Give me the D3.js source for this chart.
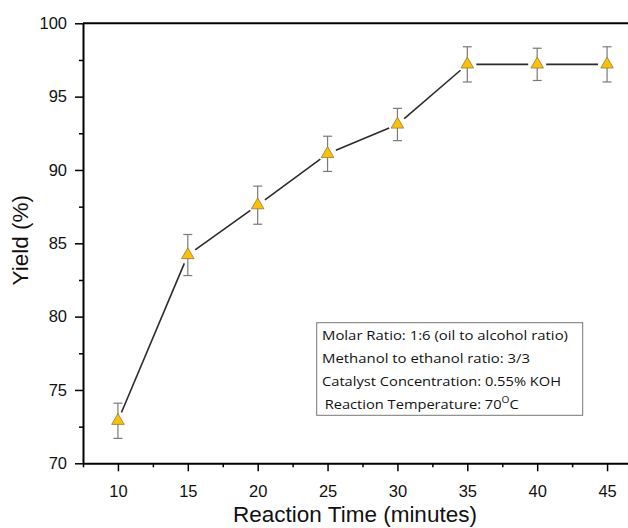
<!DOCTYPE html>
<html>
<head>
<meta charset="utf-8">
<style>
  body{ margin:0; background:#fff; }
  svg{ display:block; }
</style>
</head>
<body>
<svg id="chart" width="628" height="528"></svg>
<script src="https://d3js.org/d3.v7.min.js"></script>
<script>
    // data
    const times = [10, 15, 20, 25, 30, 35, 40, 45]
    const yields = [72.9, 84.2, 87.6, 91.1, 93.1, 97.2, 97.2, 97.2]
    const errors = [1.2, 1.4, 1.3, 1.2, 1.1, 1.2, 1.1, 1.2]
    const xTicks = [10, 15, 20, 25, 30, 35, 40, 45]
    const yTicks = [70, 75, 80, 85, 90, 95, 100]
    const notes = [
      'Molar Ratio: 1:6 (oil to alcohol ratio)',
      'Methanol to ethanol ratio: 3/3',
      'Catalyst Concentration: 0.55% KOH'
    ]

    const svg = d3.select('#chart')

    const x = d3.scaleLinear().domain([7.5, 47.5]).range([83, 642])
    const y = d3.scaleLinear().domain([70, 100]).range([463.3, 23.3])

    const axisFont = 'Liberation Sans, Arial, sans-serif'

    // minor ticks
    const xMinor = d3.range(7.5, 47.6, 5)
    const yMinor = d3.range(72.5, 100, 5)

    svg.append('g')
      .attr('transform', `translate(0,${y(70)})`)
      .call(d3.axisBottom(x).tickValues(xMinor).tickSize(4).tickFormat(''))
      .call(g => g.select('.domain').remove())
      .selectAll('line').attr('stroke', '#000').attr('stroke-width', 1.5)

    svg.append('g')
      .attr('transform', `translate(${x(7.5)},0)`)
      .call(d3.axisLeft(y).tickValues(yMinor).tickSize(4).tickFormat(''))
      .call(g => g.select('.domain').remove())
      .selectAll('line').attr('stroke', '#000').attr('stroke-width', 1.5)

    // x axis
    const gx = svg.append('g')
      .attr('transform', `translate(0,${y(70)})`)
      .call(d3.axisBottom(x).tickValues(xTicks).tickSize(8).tickSizeOuter(0).tickPadding(14))
    gx.select('.domain').attr('stroke', '#000').attr('stroke-width', 2)
    gx.selectAll('line').attr('stroke', '#000').attr('stroke-width', 1.5)
    gx.selectAll('text').attr('font-family', axisFont).attr('font-size', 16.5).attr('fill', '#111')

    // y axis
    const gy = svg.append('g')
      .attr('transform', `translate(${x(7.5)},0)`)
      .call(d3.axisLeft(y).tickValues(yTicks).tickSize(8).tickSizeOuter(0).tickPadding(8))
    gy.select('.domain').attr('stroke', '#000').attr('stroke-width', 2)
    gy.selectAll('line').attr('stroke', '#000').attr('stroke-width', 1.5)
    gy.selectAll('text').attr('font-family', axisFont).attr('font-size', 16.5).attr('fill', '#111')

    // top frame line
    svg.append('line')
      .attr('x1', x(7.5)).attr('x2', x(47.5))
      .attr('y1', y(100)).attr('y2', y(100))
      .attr('stroke', '#000').attr('stroke-width', 2)

    // axis titles
    svg.append('text')
      .attr('x', 355).attr('y', 522)
      .attr('text-anchor', 'middle')
      .attr('font-family', axisFont).attr('font-size', 22.5).attr('fill', '#111')
      .text('Reaction Time (minutes)')

    svg.append('text')
      .attr('transform', `translate(28,${(y(70) + y(100)) / 2 - 3}) rotate(-90)`)
      .attr('text-anchor', 'middle')
      .attr('font-family', axisFont).attr('font-size', 22.5).attr('fill', '#111')
      .text('Yield (%)')

    // points
    const pts = times.map((t, i) => ({x: x(t), y: y(yields[i]), lo: y(yields[i] - errors[i]), hi: y(yields[i] + errors[i])}))

    // connecting line, stopped short of each marker
    const gap = 9
    const segs = d3.pairs(pts).map(([a, b]) => {
      const dx = b.x - a.x, dy = b.y - a.y
      const len = Math.hypot(dx, dy)
      const ux = dx / len, uy = dy / len
      return [[a.x + ux * gap, a.y + uy * gap], [b.x - ux * gap, b.y - uy * gap]]
    })
    svg.append('g')
      .selectAll('line')
      .data(segs)
      .join('line')
      .attr('x1', d => d[0][0]).attr('y1', d => d[0][1])
      .attr('x2', d => d[1][0]).attr('y2', d => d[1][1])
      .attr('stroke', '#2b2b2b').attr('stroke-width', 1.6)

    // error bars
    const eb = svg.append('g').attr('stroke', '#7a7a7a').attr('stroke-width', 1.2)
    eb.selectAll('.v').data(pts).join('line')
      .attr('x1', d => d.x).attr('x2', d => d.x)
      .attr('y1', d => d.lo).attr('y2', d => d.hi)
    eb.selectAll('.t').data(pts).join('line')
      .attr('x1', d => d.x - 4.5).attr('x2', d => d.x + 4.5)
      .attr('y1', d => d.hi).attr('y2', d => d.hi)
    eb.selectAll('.b').data(pts).join('line')
      .attr('x1', d => d.x - 4.5).attr('x2', d => d.x + 4.5)
      .attr('y1', d => d.lo).attr('y2', d => d.lo)

    // triangle markers
    const tri = d3.symbol(d3.symbolTriangle, 68)
    svg.append('g')
      .selectAll('path')
      .data(pts)
      .join('path')
      .attr('transform', d => `translate(${d.x},${d.y})`)
      .attr('d', tri)
      .attr('fill', '#FFC000')
      .attr('stroke', '#8c7b4a')
      .attr('stroke-width', 0.8)

    // note box
    svg.append('rect')
      .attr('x', 316.7).attr('y', 322.7)
      .attr('width', 266).attr('height', 92.6)
      .attr('fill', '#fff').attr('stroke', '#777').attr('stroke-width', 1)

    const noteFont = 'Open Sans, sans-serif'
    const noteWidths = [246, 208, 239]
    svg.append('g')
      .selectAll('text')
      .data(notes)
      .join('text')
      .attr('x', 322)
      .attr('y', (d, i) => 340 + i * 23)
      .attr('font-family', noteFont).attr('font-size', 13)
      .attr('fill', '#111')
      .attr('textLength', (d, i) => noteWidths[i])
      .attr('lengthAdjust', 'spacingAndGlyphs')
      .text(d => d)

    const t4 = svg.append('text')
      .attr('x', 324.7).attr('y', 408.7)
      .attr('font-family', noteFont).attr('font-size', 13)
      .attr('fill', '#111')
      .attr('textLength', 194)
      .attr('lengthAdjust', 'spacingAndGlyphs')
    t4.append('tspan').text('Reaction Temperature: 70')
    t4.append('tspan').attr('dy', -6).attr('font-size', 9).text('O')
    t4.append('tspan').attr('dy', 6).text('C')
</script>
</body>
</html>
